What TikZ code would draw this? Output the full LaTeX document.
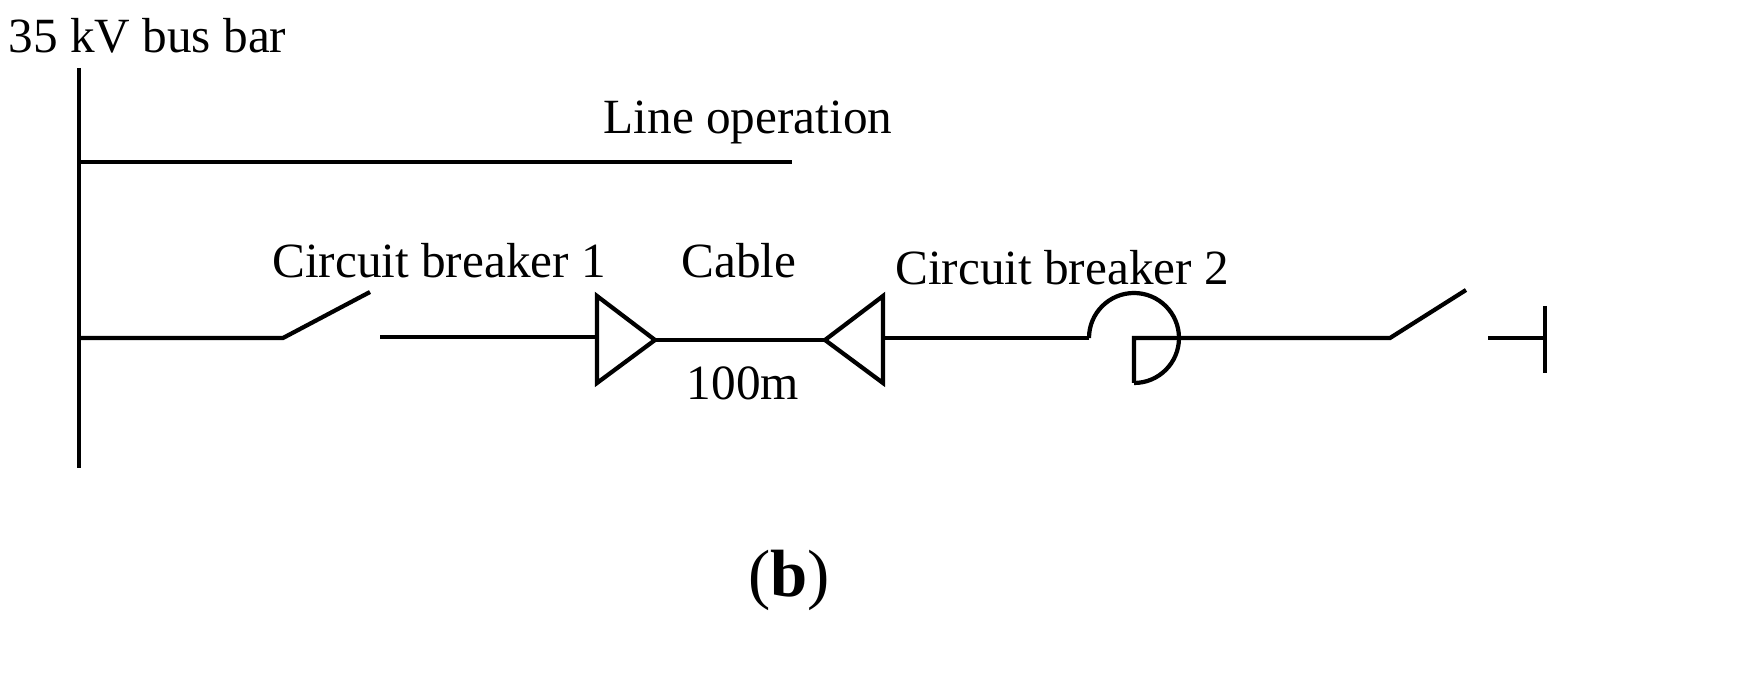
\documentclass[tikz,border=0pt]{standalone}
\usepackage{fontspec}
\setmainfont{Liberation Serif}
\begin{document}
\begin{tikzpicture}[x=0.01cm,y=-0.01cm,
  w/.style={line width=1.2pt},
  lbl/.style={font=\fontsize{14}{16}\selectfont,inner sep=0pt}]
\useasboundingbox (0,0) rectangle (1753,691);
% bus bar
\coordinate (bt) at (79,68); \coordinate (bb) at (79,468);
\draw[w] (bt) -- (bb);
\node[lbl,anchor=west] (bus) at (8,36) {35 kV bus bar};
% line operation
\coordinate (lo1) at (79,162); \coordinate (lo2) at (792,162);
\draw[w] (lo1) -- (lo2);
\node[lbl] (lop) at (748,122) {Line operation};
% breaker 1
\coordinate (a0) at (79,338); \coordinate (a1) at (283,338); \coordinate (a2) at (370,292);
\draw[w] (a0) -- (a1) -- (a2);
\coordinate (b0) at (380,337); \coordinate (b1) at (597,337);
\draw[w] (b0) -- (b1);
% cable terminations
\draw[w] (597,296) -- (655,340) -- (597,383) -- cycle;
\coordinate (c0) at (655,340); \coordinate (c1) at (825,340);
\draw[w] (c0) -- (c1);
\draw[w] (883,296) -- (825,340) -- (883,383) -- cycle;
\coordinate (d0) at (883,338); \coordinate (d1) at (1089,338);
\draw[w] (d0) -- (d1);
% breaker 2
\draw[w] (d1) arc[start angle=180,end angle=450,radius=45];
\coordinate (e0) at (1134,338); \coordinate (e1) at (1390,338); \coordinate (e2) at (1466,290);
\draw[w] (1134,383) -- (e0) -- (e1) -- (e2);
\coordinate (f0) at (1488,338); \coordinate (f1) at (1545,338);
\draw[w] (f0) -- (f1);
\draw[w] (1545,306) -- (1545,373);
% labels
\node[lbl] (cb1) at (439,261) {Circuit breaker 1};
\node[lbl] (cab) at (739,261) {Cable};
\node[lbl] (cb2) at (1062,268) {Circuit breaker 2};
\node[lbl] (len) at (743,383) {100m};
\node[font=\fontsize{19}{22}\selectfont,inner sep=0pt] (b) at (789,580) {(\textbf{b})};
\end{tikzpicture}
\end{document}
